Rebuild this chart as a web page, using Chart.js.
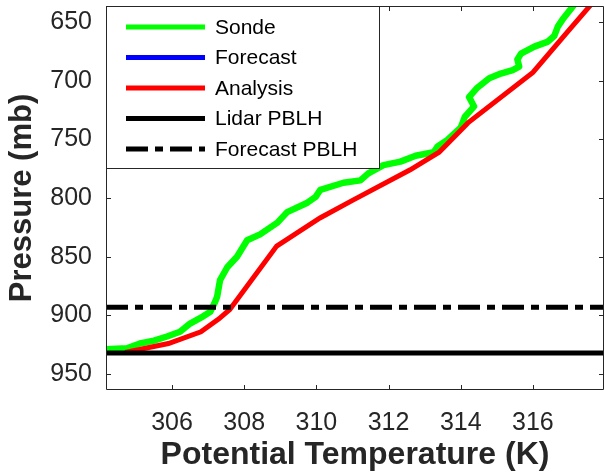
<!DOCTYPE html>
<html>
<head>
<meta charset="utf-8">
<script src="https://cdn.jsdelivr.net/npm/chart.js@4.4.1/dist/chart.umd.min.js"></script>
<style>
  html, body { margin: 0; padding: 0; background: #fff; }
  canvas { display: block; }
</style>
</head>
<body>
<canvas id="myChart" width="605" height="474"></canvas>
<script>
// sonde profile: potential temperature (K) against pressure (mb)
const sondeTheta = [304.1, 304.75, 305.11, 305.5, 305.86, 306.22, 306.5, 306.8, 307.06, 307.2, 307.25, 307.33,
  307.53, 307.8, 308.08, 308.44, 308.92, 309.19, 309.75, 309.98, 310.11, 310.75, 311.22, 311.44, 311.86,
  312.33, 312.75, 313.25, 313.36, 313.63, 314.0, 314.11, 314.37, 314.23, 314.46, 314.79, 315.11, 315.44,
  315.62, 315.57, 315.67, 316.04, 316.4, 316.59, 316.69, 316.82, 317.1, 317.2];
const sondePres = [929, 928, 924, 921.5, 918, 914, 907, 902, 897, 888, 884, 870,
  859, 850, 836, 831, 821, 812, 804, 799, 793, 787, 785, 779, 772,
  769, 764, 761, 756, 750.5, 740, 731, 722, 714, 706, 698, 694, 691,
  688, 682, 677, 671, 667, 662, 654, 648, 637, 633];

// analysis profile
const analysisTheta = [304.7, 305.9, 306.8, 307.3, 307.6, 308.9, 310.1, 311.0, 312.6, 313.4, 314.2, 316.0, 317.0, 317.7];
const analysisPres = [931.5, 924, 914, 903, 895, 841, 817, 802, 776, 761, 736, 693, 657, 632];

// forecast profile (nothing visible in the plot)
const forecastTheta = [];
const forecastPres = [];

// boundary layer heights (mb)
const lidarPblh = 932;
const forecastPblh = 893;

const xTicks = [306, 308, 310, 312, 314, 316];
const yTicks = [650, 700, 750, 800, 850, 900, 950];
const xLimits = [304.17, 317.97];
const yLimits = [636.4, 963.6];

const FONT = '"Liberation Sans", Arial, Helvetica, sans-serif';
const AXIS_COLOR = '#262626';

function toPoints(xs, ys) {
  return xs.map((v, i) => ({ x: v, y: ys[i] }));
}

// MATLAB-style box with inward ticks
const axesBox = {
  id: 'axesBox',
  afterDatasetsDraw(chart) {
    const { ctx, chartArea: a, scales: { x, y } } = chart;
    ctx.save();
    ctx.strokeStyle = AXIS_COLOR;
    ctx.lineWidth = 1;
    ctx.beginPath();
    ctx.rect(a.left + 0.5, a.top + 0.5, a.right - a.left - 1, a.bottom - a.top - 1);
    x.ticks.forEach(t => {
      const px = Math.round(x.getPixelForValue(t.value)) + 0.5;
      ctx.moveTo(px, a.bottom); ctx.lineTo(px, a.bottom - 5);
      ctx.moveTo(px, a.top); ctx.lineTo(px, a.top + 5);
    });
    y.ticks.forEach(t => {
      const py = Math.round(y.getPixelForValue(t.value)) + 0.5;
      ctx.moveTo(a.left, py); ctx.lineTo(a.left + 5, py);
      ctx.moveTo(a.right, py); ctx.lineTo(a.right - 5, py);
    });
    ctx.stroke();
    ctx.restore();
  }
};

// legend box in the upper left corner of the axes
const boxLegend = {
  id: 'boxLegend',
  afterDraw(chart) {
    const { ctx, chartArea: a } = chart;
    const w = 273, h = 162, rowGap = 30.5;
    ctx.save();
    ctx.fillStyle = '#fff';
    ctx.fillRect(a.left, a.top, w, h);
    ctx.strokeStyle = AXIS_COLOR;
    ctx.lineWidth = 1;
    ctx.strokeRect(a.left + 0.5, a.top + 0.5, w, h);
    ctx.font = '21px ' + FONT;
    ctx.textBaseline = 'middle';
    chart.data.datasets.forEach((ds, i) => {
      const yy = a.top + 21 + i * rowGap;
      ctx.beginPath();
      ctx.strokeStyle = ds.borderColor;
      ctx.lineWidth = ds.legendWidth || ds.borderWidth;
      ctx.setLineDash(ds.borderDash || []);
      ctx.moveTo(a.left + 20, yy);
      ctx.lineTo(a.left + 99, yy);
      ctx.stroke();
      ctx.setLineDash([]);
      ctx.fillStyle = '#000';
      ctx.fillText(ds.label, a.left + 109, yy + 1);
    });
    ctx.restore();
  }
};

const myChartRef = document.getElementById('myChart').getContext('2d');

new Chart(myChartRef, {
  type: 'line',
  data: {
    datasets: [
      {
        label: 'Sonde',
        data: toPoints(sondeTheta, sondePres),
        borderColor: '#00ff00',
        borderWidth: 6.5,
        legendWidth: 5,
        borderJoinStyle: 'round',
        borderCapStyle: 'round',
        order: 5
      },
      {
        label: 'Forecast',
        data: toPoints(forecastTheta, forecastPres),
        borderColor: '#0000ff',
        borderWidth: 5,
        order: 4
      },
      {
        label: 'Analysis',
        data: toPoints(analysisTheta, analysisPres),
        borderColor: '#ff0000',
        borderWidth: 5,
        order: 3
      },
      {
        label: 'Lidar PBLH',
        data: toPoints(xLimits, [lidarPblh, lidarPblh]),
        borderColor: '#000000',
        borderWidth: 5,
        order: 2
      },
      {
        label: 'Forecast PBLH',
        data: toPoints(xLimits, [forecastPblh, forecastPblh]),
        borderColor: '#000000',
        borderWidth: 5,
        borderDash: [22, 7, 8, 7],
        order: 1
      }
    ]
  },
  options: {
    responsive: false,
    animation: false,
    events: [],
    layout: { padding: { top: 6, right: 1, left: 0, bottom: 0 } },
    elements: { point: { radius: 0 }, line: { tension: 0 } },
    plugins: {
      legend: { display: false },
      tooltip: { enabled: false }
    },
    scales: {
      x: {
        type: 'linear',
        min: xLimits[0],
        max: xLimits[1],
        afterBuildTicks: s => { s.ticks = xTicks.map(v => ({ value: v })); },
        afterFit: s => { s.height = 84; s.paddingLeft = 0; s.paddingRight = 0; },
        grid: { display: false, drawTicks: false },
        border: { display: false },
        ticks: {
          autoSkip: false, maxRotation: 0, padding: 18,
          color: AXIS_COLOR,
          font: { family: FONT, size: 25 }
        },
        title: {
          display: true,
          text: 'Potential Temperature (K)',
          color: AXIS_COLOR,
          font: { family: FONT, size: 32, weight: 'bold' },
          padding: { top: 0, bottom: 0 }
        }
      },
      y: {
        type: 'linear',
        reverse: true,
        min: yLimits[0],
        max: yLimits[1],
        afterBuildTicks: s => { s.ticks = yTicks.map(v => ({ value: v })); },
        afterFit: s => { s.width = 106; s.paddingTop = 0; s.paddingBottom = 0; },
        grid: { display: false, drawTicks: false },
        border: { display: false },
        ticks: {
          autoSkip: false, padding: 14,
          color: AXIS_COLOR,
          font: { family: FONT, size: 25 }
        },
        title: {
          display: true,
          text: 'Pressure (mb)',
          color: AXIS_COLOR,
          font: { family: FONT, size: 31, weight: 'bold' },
          padding: { top: 4, bottom: 0 }
        }
      }
    }
  },
  plugins: [axesBox, boxLegend]
});
</script>
</body>
</html>
